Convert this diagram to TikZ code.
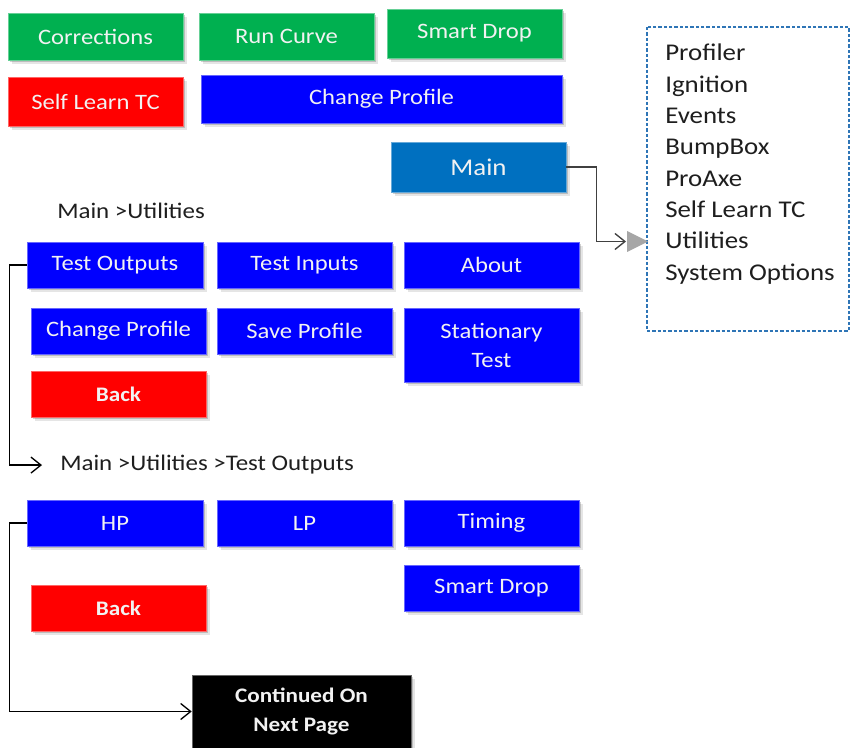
\documentclass[tikz,border=0pt]{standalone}
\usepackage{fontspec}
\setmainfont{Carlito}[FakeStretch=1.12]
\usetikzlibrary{arrows.meta, shadows, math}
\definecolor{mygreen}{RGB}{0,176,80}
\definecolor{myred}{RGB}{255,0,0}
\definecolor{myblue}{RGB}{0,0,255}
\definecolor{mainblue}{RGB}{0,112,192}
\definecolor{dashblue}{RGB}{46,117,182}
\definecolor{mytext}{RGB}{30,30,30}
\definecolor{mywhite}{RGB}{242,242,242}
\definecolor{mygray}{RGB}{166,166,166}
\definecolor{myline}{RGB}{64,64,64}

\begin{document}
\begin{tikzpicture}[x=0.75pt, y=-0.75pt,
  btn/.style={rectangle, fill=#1, draw=#1!60!white, line width=0.4pt,
    minimum width=131.25pt, minimum height=35pt, inner sep=0pt,
    text=mywhite, align=center, font=\fontsize{16.5}{21.75}\selectfont,
    drop shadow={shadow xshift=1.5pt, shadow yshift=-1.5pt, opacity=0.18, fill=black},
    drop shadow={shadow xshift=3pt, shadow yshift=-3pt, opacity=0.10, fill=black}},
  backbtn/.style={btn=#1, font=\fontsize{15.5}{21.75}\selectfont\bfseries},
  lbl/.style={anchor=base west, inner sep=0pt, text=mytext, font=\fontsize{16.7}{20}\selectfont},
  opt/.style={anchor=base west, inner sep=0pt, text=mytext, font=\fontsize{18}{22}\selectfont},
  conn/.style={line width=1pt, -{Straight Barb[length=7.5pt, width=12pt]}},
]
\useasboundingbox (0,0) rectangle (850,748);

%top menu
\node[btn=mygreen, minimum height=35.25pt] (corr) at (95.5,36.5) {Corrections};
\node[btn=mygreen, minimum height=35.25pt] (runc) at (286.5,36.5) {Run Curve};
\node[btn=mygreen, minimum height=36.75pt] (sdrop) at (474.5,33.5) {Smart Drop};
\node[btn=myred, minimum height=36.75pt] (slearn) at (95.5,101.5) {Self Learn TC};
\node[btn=myblue, minimum width=270.75pt, minimum height=36pt] (chprof) at (381.5,99) {Change Profile};
\node[btn=mainblue, minimum height=37.5pt, font=\fontsize{18}{22}\selectfont] (main) at (478.5,167) {Main};

%options list
\draw[dashblue, line width=0.8pt, dash pattern=on 2.5pt off 1.5pt] (647,27) rectangle (849,331);
\foreach \item [count=\i] in {Profiler, Ignition, Events, BumpBox, ProAxe, Self Learn TC, Utilities, System Options}
  \node[opt] (opt\i) at (665,{61+(\i-1)*31.3}) {\item};
\fill[mygray] (627,231) -- (648,241.5) -- (627,252) -- cycle;
\coordinate (utri) at (626,241.5);
\draw[conn, myline] (main.east) -- ++(30,0) |- (utri);

%utilities
\node[lbl] (lbl1) at (57,219) {Main >Utilities};
\node[btn=myblue, minimum width=132pt, minimum height=34.5pt] (tout) at (115,265) {Test Outputs};
\node[btn=myblue, minimum height=34.5pt] (tin) at (304.5,265) {Test Inputs};
\node[btn=myblue, minimum height=34.5pt] (about) at (491.5,265) {About};
\node[btn=myblue, minimum height=34.5pt] (chprof2) at (118.5,331) {Change Profile};
\node[btn=myblue, minimum height=34.5pt] (save) at (304.5,331) {Save Profile};
\node[btn=myblue, minimum height=55.5pt] (stat) at (491.5,345) {Stationary\\Test};
\node[backbtn=myred, minimum height=34.5pt] (back1) at (118.5,394) {Back};

%test outputs
\node[lbl] (lbl2) at (60,471) {Main >Utilities >Test Outputs};
\draw[conn] (tout.west) -- ++(-17,0) |- ([xshift=-13.5pt]lbl2.west);
\node[btn=myblue, minimum width=132pt, minimum height=34.5pt] (hp) at (115,523) {HP};
\node[btn=myblue, minimum height=34.5pt] (lp) at (304.5,523) {LP};
\node[btn=myblue, minimum height=34.5pt] (timing) at (491.5,523) {Timing};
\node[btn=myblue, minimum height=34.5pt] (sdrop2) at (491.5,588) {Smart Drop};
\node[backbtn=myred, minimum height=34.5pt] (back2) at (118.5,608) {Back};
\node[backbtn=black, minimum width=164.25pt, minimum height=54.75pt] (cont) at (301.5,711.5) {Continued On\\Next Page};
\draw[conn] (hp.west) -- ++(-17,0) |- (cont.west);
\end{tikzpicture}
\end{document}
